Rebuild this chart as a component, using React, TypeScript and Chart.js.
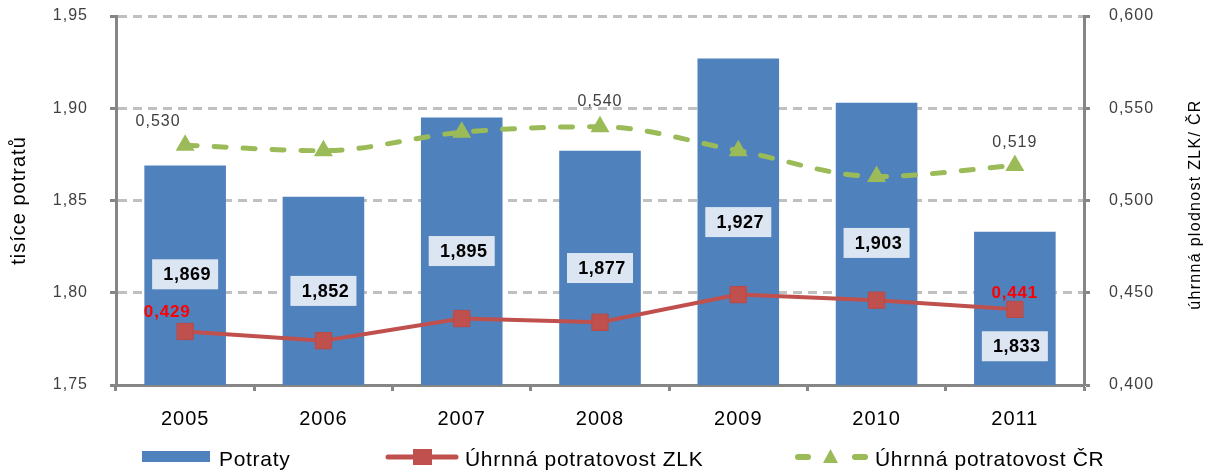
import React, { useEffect, useRef } from 'react';
import { Chart, registerables } from 'chart.js';

Chart.register(...registerables);

// ---------- data ----------
const years = ['2005', '2006', '2007', '2008', '2009', '2010', '2011'];
const potraty = [1.869, 1.852, 1.895, 1.877, 1.927, 1.903, 1.833];
const potratovostZLK = [0.429, 0.424, 0.436, 0.434, 0.449, 0.446, 0.441];
const potratovostCR = [0.53, 0.527, 0.537, 0.54, 0.527, 0.513, 0.519];
const leftTicks = [1.75, 1.8, 1.85, 1.9, 1.95];
const rightTicks = [0.4, 0.45, 0.5, 0.55, 0.6];

// ---------- label placement (style, not data) ----------
const barLabelAt = [1.81, 1.801, 1.8226, 1.8134, 1.8383, 1.827, 1.771];
const zlkLabels = [
  { i: 0, dx: -18, dy: -19 },
  { i: 6, dx: 0, dy: -16 },
];
const crLabels = [
  { i: 0, dx: -27, dy: -24 },
  { i: 3, dx: 0, dy: -25 },
  { i: 6, dx: 0, dy: -23 },
];

const BLUE = '#4f81bd';
const RED = '#c0504d';
const GREEN = '#9bbb59';
const AXIS = '#868686';
const GRID = '#c0c0c0';
const TXT = '#404040';
const FONT = '"Liberation Sans", Arial, sans-serif';

const fmt = (v: number, d: number) => v.toFixed(d).replace('.', ',');

const labelsPlugin = {
  id: 'customLabels',
  beforeDraw(chart: any) {
    chart.ctx.letterSpacing = '1px';
  },
  afterDatasetsDraw(chart: any) {
    const ctx = chart.ctx;
    const y = chart.scales.y;
    ctx.save();
    // bar value boxes
    const barMeta = chart.getDatasetMeta(0);
    ctx.letterSpacing = '0.5px';
    ctx.font = `bold 18px ${FONT}`;
    ctx.textAlign = 'center';
    ctx.textBaseline = 'middle';
    barMeta.data.forEach((el: any, i: number) => {
      const cx = el.x;
      const cy = y.getPixelForValue(barLabelAt[i]);
      ctx.fillStyle = '#dce6f2';
      ctx.fillRect(cx - 33, cy - 15, 66, 30);
      ctx.fillStyle = '#000000';
      ctx.fillText(fmt(potraty[i], 3), cx + 2, cy + 1);
    });
    // ZLK labels
    const zMeta = chart.getDatasetMeta(1);
    ctx.fillStyle = '#ff0000';
    ctx.font = `bold 17px ${FONT}`;
    ctx.letterSpacing = '0.8px';
    zlkLabels.forEach((l) => {
      const el = zMeta.data[l.i];
      ctx.fillText(fmt(potratovostZLK[l.i], 3), el.x + l.dx, el.y + l.dy);
    });
    // CR labels
    const cMeta = chart.getDatasetMeta(2);
    ctx.fillStyle = TXT;
    ctx.font = `16px ${FONT}`;
    ctx.letterSpacing = '1px';
    crLabels.forEach((l) => {
      const el = cMeta.data[l.i];
      ctx.fillText(fmt(potratovostCR[l.i], 3), el.x + l.dx, el.y + l.dy);
    });
    ctx.restore();
  },
  afterDraw(chart: any) {
    const ctx = chart.ctx;
    const area = chart.chartArea;
    const cy = (area.top + area.bottom) / 2;
    ctx.save();
    // axis titles
    ctx.fillStyle = '#000000';
    ctx.textAlign = 'center';
    ctx.textBaseline = 'middle';
    ctx.letterSpacing = '1px';
    ctx.save();
    ctx.translate(19, cy);
    ctx.rotate(-Math.PI / 2);
    ctx.font = `20px ${FONT}`;
    ctx.fillText('tisíce potratů', 0, 0);
    ctx.restore();
    ctx.save();
    ctx.letterSpacing = '1.3px';
    ctx.translate(1196, cy + 4);
    ctx.rotate(-Math.PI / 2);
    ctx.font = `16px ${FONT}`;
    ctx.fillText('úhrnná plodnost ZLK/ ČR', 0, 0);
    ctx.restore();

    // legend
    const ly = 457;
    ctx.letterSpacing = '0.7px';
    ctx.font = `21px ${FONT}`;
    ctx.textAlign = 'left';
    ctx.textBaseline = 'alphabetic';
    ctx.fillStyle = BLUE;
    ctx.fillRect(142, 451, 68, 11);
    ctx.fillStyle = '#000000';
    ctx.fillText('Potraty', 219, 466);

    ctx.strokeStyle = RED;
    ctx.lineWidth = 5;
    ctx.lineCap = 'round';
    ctx.beginPath();
    ctx.moveTo(388, ly);
    ctx.lineTo(456, ly);
    ctx.stroke();
    ctx.fillStyle = RED;
    ctx.fillRect(413, ly - 8, 19, 16);
    ctx.fillStyle = '#000000';
    ctx.fillText('Úhrnná potratovost ZLK', 465, 466);

    ctx.strokeStyle = GREEN;
    ctx.lineWidth = 6;
    ctx.beginPath();
    ctx.moveTo(798, ly);
    ctx.lineTo(808, ly);
    ctx.moveTo(855, ly);
    ctx.lineTo(865, ly);
    ctx.stroke();
    ctx.fillStyle = GREEN;
    ctx.beginPath();
    ctx.moveTo(830.5, ly - 8);
    ctx.lineTo(838, ly + 6);
    ctx.lineTo(823, ly + 6);
    ctx.closePath();
    ctx.fill();
    ctx.fillStyle = '#000000';
    ctx.fillText('Úhrnná potratovost ČR', 875, 466);
    ctx.restore();
    ctx.letterSpacing = '0px';
  },
};

const fixVertical = (w: number) => (s: any) => {
  s.width = w;
  s.paddingTop = 0;
  s.paddingBottom = 0;
};

export default function App() {
  const ref = useRef<HTMLCanvasElement>(null);

  useEffect(() => {
    if (!ref.current) return;
    const chart = new Chart(ref.current, {
      type: 'bar',
      data: {
        labels: years,
        datasets: [
          {
            type: 'bar',
            label: 'Potraty',
            data: potraty,
            backgroundColor: BLUE,
            yAxisID: 'y',
            categoryPercentage: 1,
            barPercentage: 0.59,
            order: 3,
          },
          {
            type: 'line',
            label: 'Úhrnná potratovost ZLK',
            data: potratovostZLK,
            borderColor: RED,
            backgroundColor: RED,
            borderWidth: 4,
            pointStyle: 'rect',
            pointRadius: 11.5,
            pointBackgroundColor: RED,
            pointBorderColor: '#b94a47',
            pointBorderWidth: 1,
            tension: 0,
            yAxisID: 'y1',
            order: 2,
          },
          {
            type: 'line',
            label: 'Úhrnná potratovost ČR',
            data: potratovostCR,
            borderColor: GREEN,
            backgroundColor: GREEN,
            borderWidth: 5,
            borderDash: [12, 17],
            borderCapStyle: 'round',
            pointStyle: 'triangle',
            pointRadius: 11,
            pointBackgroundColor: GREEN,
            pointBorderWidth: 0,
            tension: 0.3,
            cubicInterpolationMode: 'monotone',
            yAxisID: 'y1',
            order: 1,
          },
        ],
      },
      options: {
        responsive: false,
        animation: false,
        layout: { autoPadding: false, padding: { top: 16, bottom: 35, left: 0, right: 0 } },
        plugins: {
          legend: { display: false },
          tooltip: { enabled: false },
        },
        scales: {
          x: {
            offset: true,
            grid: {
              display: true,
              offset: true,
              drawOnChartArea: false,
              drawTicks: true,
              tickLength: 6,
              tickColor: AXIS,
              tickWidth: 3,
            },
            border: { display: true, color: AXIS, width: 3 },
            ticks: {
              color: '#000000',
              font: { family: FONT, size: 20 },
              padding: 16,
            },
            afterFit: (s: any) => {
              s.height = 53;
              s.paddingLeft = 0;
              s.paddingRight = 0;
            },
          },
          y: {
            position: 'left',
            min: 1.75,
            max: 1.95,
            afterBuildTicks: (s: any) => {
              s.ticks = leftTicks.map((v) => ({ value: v }));
            },
            grid: {
              color: (c: any) => (c.tick && c.tick.value === 1.75 ? 'rgba(0,0,0,0)' : GRID),
              lineWidth: 3,
              tickLength: 6,
              tickColor: AXIS,
              tickWidth: 3,
            },
            border: { display: true, color: AXIS, width: 3, dash: [9, 6] },
            ticks: {
              color: TXT,
              font: { family: FONT, size: 16 },
              padding: 22,
              callback: (v: any) => fmt(Number(v), 2),
            },
            afterFit: fixVertical(116),
          },
          y1: {
            position: 'right',
            min: 0.4,
            max: 0.6,
            afterBuildTicks: (s: any) => {
              s.ticks = rightTicks.map((v) => ({ value: v }));
            },
            grid: {
              drawOnChartArea: false,
              tickLength: 6,
              tickColor: AXIS,
              tickWidth: 3,
            },
            border: { display: true, color: AXIS, width: 3 },
            ticks: {
              color: TXT,
              font: { family: FONT, size: 16 },
              padding: 19,
              callback: (v: any) => fmt(Number(v), 3),
            },
            afterFit: fixVertical(126),
          },
        },
      },
      plugins: [labelsPlugin],
    } as any);
    return () => chart.destroy();
  }, []);

  return (
    <div style={{ position: 'absolute', left: 0, top: 0, width: 1210, height: 473, background: '#ffffff' }}>
      <canvas ref={ref} width={1210} height={473} style={{ display: 'block' }} />
    </div>
  );
}
